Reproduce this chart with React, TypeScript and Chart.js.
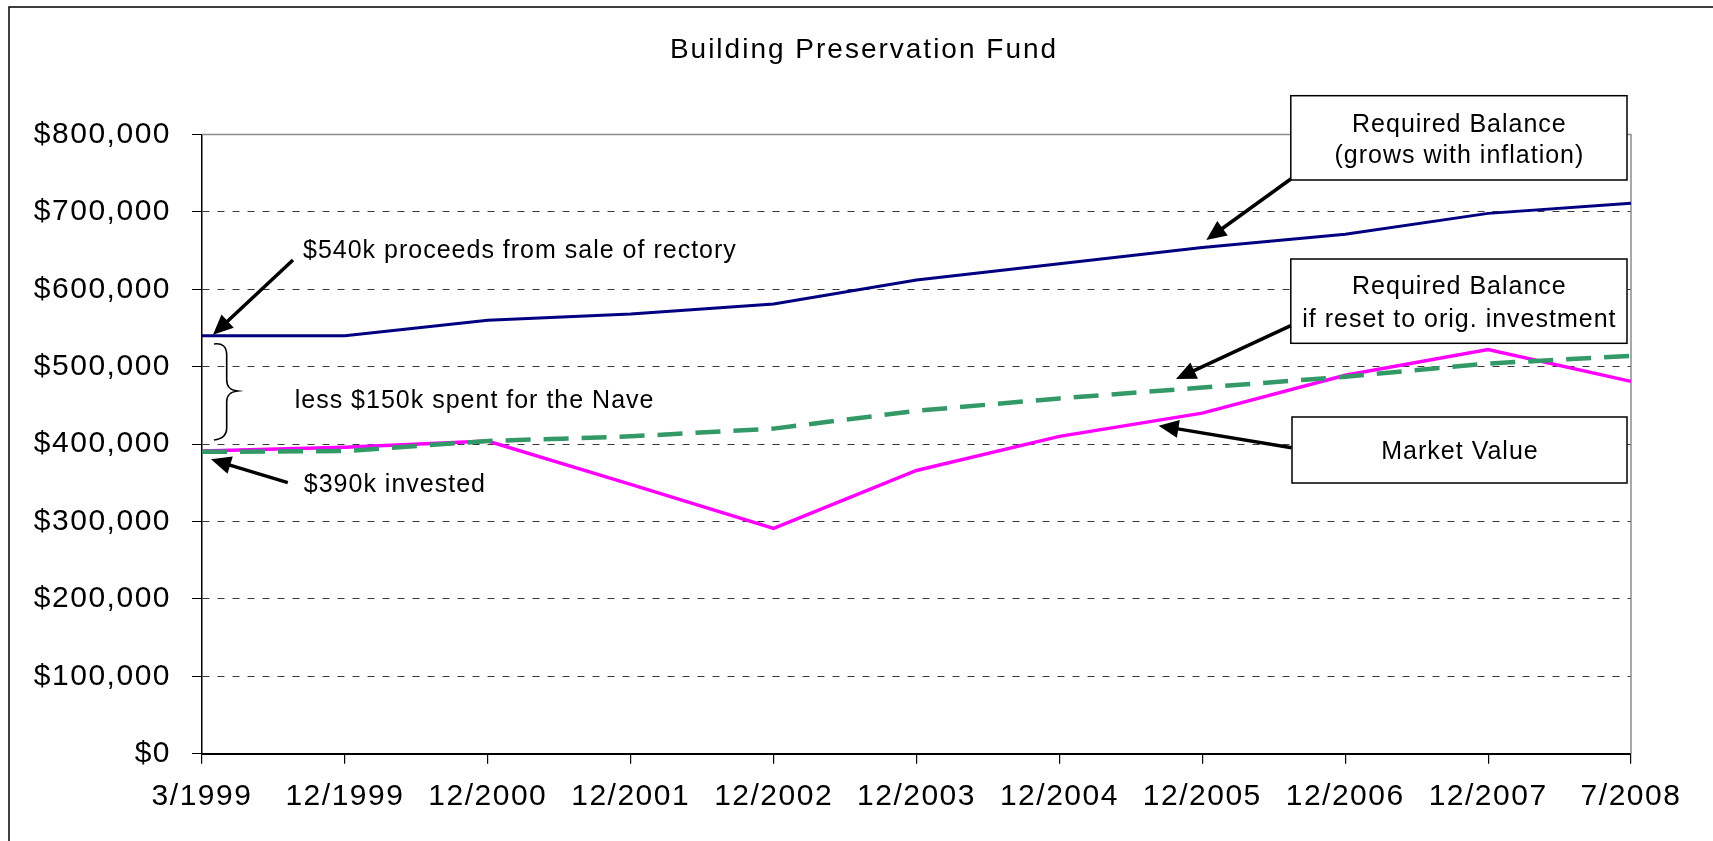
import React, { useEffect, useRef } from 'react';
import { Chart, registerables } from 'chart.js';

Chart.register(...registerables);

// ---------------- data ----------------
const categories = ['3/1999', '12/1999', '12/2000', '12/2001', '12/2002', '12/2003', '12/2004', '12/2005', '12/2006', '12/2007', '7/2008'];
const requiredBalance = [540000, 540000, 560000, 568000, 581000, 612000, 633000, 654000, 671000, 698000, 711000];
const resetBalance = [390000, 391000, 404000, 410000, 420000, 443000, 459000, 473000, 487000, 504000, 514000];
const marketValue = [391000, 396000, 404000, 348000, 291000, 366000, 410000, 440000, 489000, 522000, 481000];
const yMin = 0;
const yMax = 800000;
const yStep = 100000;
const titleText = 'Building Preservation Fund';
const box1Lines = ['Required Balance', '(grows with inflation)'];
const box2Lines = ['Required Balance', 'if reset to orig. investment'];
const box3Lines = ['Market Value'];
const note540 = '$540k proceeds from sale of rectory';
const note150 = 'less $150k spent for the Nave';
const note390 = '$390k invested';

const FONT = '"Liberation Sans", Arial, Helvetica, sans-serif';

function setSpacing(ctx: any, v: string) {
  if ('letterSpacing' in ctx) ctx.letterSpacing = v;
}

function drawArrow(ctx: CanvasRenderingContext2D, x1: number, y1: number, x2: number, y2: number) {
  const ang = Math.atan2(y2 - y1, x2 - x1);
  const len = 20;
  const hw = 9;
  const bx = x2 - len * Math.cos(ang);
  const by = y2 - len * Math.sin(ang);
  ctx.save();
  ctx.strokeStyle = '#000';
  ctx.fillStyle = '#000';
  ctx.lineWidth = 3.5;
  ctx.beginPath();
  ctx.moveTo(x1, y1);
  ctx.lineTo(bx + 2 * Math.cos(ang), by + 2 * Math.sin(ang));
  ctx.stroke();
  ctx.beginPath();
  ctx.moveTo(x2, y2);
  ctx.lineTo(bx - hw * Math.sin(ang), by + hw * Math.cos(ang));
  ctx.lineTo(bx + hw * Math.sin(ang), by - hw * Math.cos(ang));
  ctx.closePath();
  ctx.fill();
  ctx.restore();
}

function drawBox(ctx: CanvasRenderingContext2D, x1: number, y1: number, x2: number, y2: number, lines: string[], baselines: number[]) {
  ctx.save();
  ctx.fillStyle = '#fff';
  ctx.fillRect(x1, y1, x2 - x1, y2 - y1);
  ctx.strokeStyle = '#000';
  ctx.lineWidth = 1.5;
  ctx.strokeRect(x1, y1, x2 - x1, y2 - y1);
  ctx.fillStyle = '#000';
  ctx.font = `25px ${FONT}`;
  setSpacing(ctx, '1px');
  ctx.textAlign = 'center';
  ctx.textBaseline = 'alphabetic';
  const cx = (x1 + x2) / 2 + 0.5;
  lines.forEach((t, i) => ctx.fillText(t, cx, baselines[i]));
  ctx.restore();
}

const decorPlugin = {
  id: 'decor',
  beforeDraw(chart: any) {
    const ctx = chart.ctx;
    setSpacing(ctx, '1.5px');
  },
  beforeDatasetsDraw(chart: any) {
    const ctx = chart.ctx;
    const a = chart.chartArea;
    ctx.save();
    ctx.strokeStyle = '#8c8c8c';
    ctx.lineWidth = 1.5;
    ctx.beginPath();
    ctx.moveTo(a.left, a.top);
    ctx.lineTo(a.right, a.top);
    ctx.lineTo(a.right, a.bottom);
    ctx.stroke();
    ctx.restore();
  },
  afterDraw(chart: any) {
    const ctx = chart.ctx as CanvasRenderingContext2D;
    const xs = chart.scales.x;
    const ys = chart.scales.y;
    ctx.save();
    setSpacing(ctx, '0px');

    // outer frame
    ctx.strokeStyle = '#000';
    ctx.lineWidth = 1.5;
    ctx.beginPath();
    ctx.moveTo(9, chart.height + 5);
    ctx.lineTo(9, 7);
    ctx.lineTo(chart.width + 5, 7);
    ctx.stroke();

    // title
    ctx.fillStyle = '#000';
    ctx.font = `28px ${FONT}`;
    setSpacing(ctx, '2px');
    ctx.textAlign = 'center';
    ctx.textBaseline = 'alphabetic';
    ctx.fillText(titleText, 864, 57.5);

    // left annotations
    ctx.font = `25px ${FONT}`;
    setSpacing(ctx, '1px');
    ctx.textAlign = 'left';
    ctx.fillText(note540, 303, 258.3);
    ctx.fillText(note150, 294.7, 408);
    ctx.fillText(note390, 303.8, 491.7);

    const x0 = xs.getPixelForValue(0);
    drawArrow(ctx, 293, 260, x0 + 11, ys.getPixelForValue(requiredBalance[0]) - 1);
    drawArrow(ctx, 287.8, 482.7, x0 + 9, ys.getPixelForValue(resetBalance[0]) + 7.5);

    // brace
    ctx.save();
    ctx.strokeStyle = '#000';
    ctx.lineWidth = 1.6;
    ctx.beginPath();
    ctx.moveTo(214, 344);
    ctx.bezierCurveTo(222, 343, 226.7, 346, 226.7, 355);
    ctx.lineTo(226.7, 380);
    ctx.bezierCurveTo(226.7, 387, 230, 390, 237.7, 391);
    ctx.bezierCurveTo(230, 392, 226.7, 395, 226.7, 402);
    ctx.lineTo(226.7, 428);
    ctx.bezierCurveTo(226.7, 436, 222, 439, 214, 440);
    ctx.stroke();
    ctx.restore();

    // right boxes with arrows
    drawBox(ctx, 1290.8, 95.7, 1627, 180, box1Lines, [131.7, 163.3]);
    drawArrow(ctx, 1290.8, 179, 1206.3, 240);
    drawBox(ctx, 1290.8, 259, 1627, 343.3, box2Lines, [294.3, 326.7]);
    drawArrow(ctx, 1290.8, 325.7, 1176, 379);
    drawBox(ctx, 1292, 417, 1627, 483, box3Lines, [459]);
    drawArrow(ctx, 1291.6, 447.7, 1158.6, 425.7);

    ctx.restore();
    setSpacing(ctx, '0px');
  },
};

export default function App() {
  const ref = useRef<HTMLCanvasElement>(null);

  useEffect(() => {
    if (!ref.current) return;
    const chart = new Chart(ref.current, {
      type: 'line',
      data: {
        labels: categories,
        datasets: [
          {
            label: 'Required Balance (grows with inflation)',
            data: requiredBalance,
            borderColor: '#000080',
            backgroundColor: '#000080',
            borderWidth: 3,
            pointRadius: 0,
            tension: 0,
            order: 2,
          },
          {
            label: 'Market Value',
            data: marketValue,
            borderColor: '#ff00ff',
            backgroundColor: '#ff00ff',
            borderWidth: 3.5,
            pointRadius: 0,
            tension: 0,
            order: 1,
          },
          {
            label: 'Required Balance if reset to orig. investment',
            data: resetBalance,
            borderColor: '#339966',
            backgroundColor: '#339966',
            borderWidth: 4.5,
            borderDash: [25, 13],
            pointRadius: 0,
            tension: 0,
            order: 0,
          },
        ],
      },
      options: {
        responsive: false,
        animation: false,
        devicePixelRatio: 1,
        layout: { padding: { top: 134.4, right: 82, left: 0, bottom: 0 } },
        plugins: {
          legend: { display: false },
          title: { display: false },
          tooltip: { enabled: false },
        },
        events: [],
        scales: {
          x: {
            type: 'category',
            offset: false,
            grid: {
              drawOnChartArea: false,
              drawTicks: true,
              tickLength: 10,
              color: '#000',
              tickColor: '#000',
              lineWidth: 1.2,
            },
            border: { display: true, color: '#000', width: 2 },
            ticks: {
              color: '#000',
              font: { family: FONT, size: 30 },
              padding: 15,
              maxRotation: 0,
              minRotation: 0,
              autoSkip: false,
            },
            afterFit: (scale: any) => {
              scale.height = 841 - 753.8;
            },
          },
          y: {
            type: 'linear',
            min: yMin,
            max: yMax,
            ticks: {
              stepSize: yStep,
              color: '#000',
              font: { family: FONT, size: 30 },
              padding: 21,
              callback: (v: any) => '$' + Number(v).toLocaleString('en-US'),
            },
            grid: {
              drawOnChartArea: true,
              drawTicks: true,
              tickLength: 10,
              lineWidth: 1,
              color: (c: any) =>
                c.tick && (c.tick.value === yMin || c.tick.value === yMax) ? 'rgba(0,0,0,0)' : '#3a3a3a',
              tickColor: '#000',
              tickBorderDash: [],
            },
            border: { display: true, color: '#000', width: 1.5, dash: [7, 8] },
            afterFit: (scale: any) => {
              scale.width = 202;
            },
          },
        },
      },
      plugins: [decorPlugin],
    } as any);
    return () => chart.destroy();
  }, []);

  return (
    <canvas
      ref={ref}
      width={1713}
      height={841}
      style={{ position: 'absolute', left: 0, top: 0, width: '1713px', height: '841px', display: 'block' }}
    />
  );
}
